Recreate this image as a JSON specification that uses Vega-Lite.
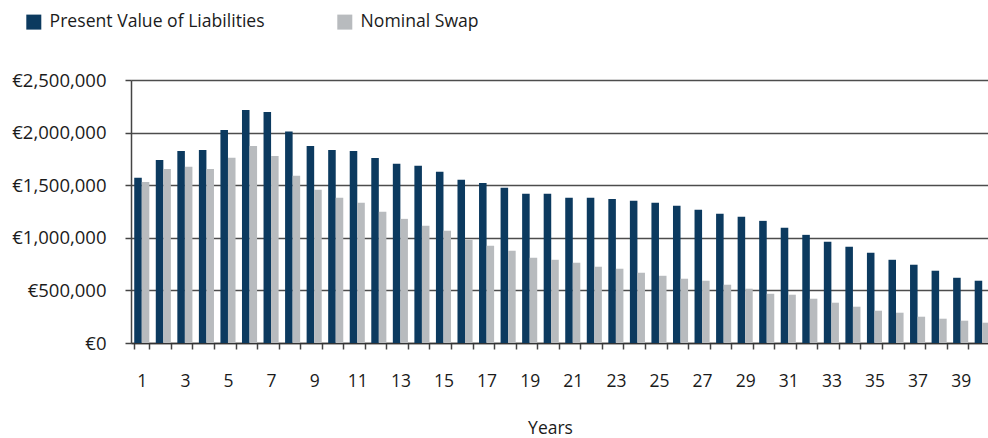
{
  "$schema": "https://vega.github.io/schema/vega-lite/v6.json",
  "autosize": "none",
  "width": 857,
  "height": 263,
  "padding": {"left": 131, "top": 80, "right": 0, "bottom": 95},
  "background": "white",
  "data": {
    "values": [
      {"Year": 1, "Present Value of Liabilities": 1570000, "Nominal Swap": 1530000},
      {"Year": 2, "Present Value of Liabilities": 1740000, "Nominal Swap": 1655000},
      {"Year": 3, "Present Value of Liabilities": 1825000, "Nominal Swap": 1675000},
      {"Year": 4, "Present Value of Liabilities": 1835000, "Nominal Swap": 1655000},
      {"Year": 5, "Present Value of Liabilities": 2025000, "Nominal Swap": 1760000},
      {"Year": 6, "Present Value of Liabilities": 2215000, "Nominal Swap": 1873000},
      {"Year": 7, "Present Value of Liabilities": 2195000, "Nominal Swap": 1778000},
      {"Year": 8, "Present Value of Liabilities": 2010000, "Nominal Swap": 1590000},
      {"Year": 9, "Present Value of Liabilities": 1873000, "Nominal Swap": 1456000},
      {"Year": 10, "Present Value of Liabilities": 1835000, "Nominal Swap": 1380000},
      {"Year": 11, "Present Value of Liabilities": 1826000, "Nominal Swap": 1332000},
      {"Year": 12, "Present Value of Liabilities": 1759000, "Nominal Swap": 1247000},
      {"Year": 13, "Present Value of Liabilities": 1703000, "Nominal Swap": 1180000},
      {"Year": 14, "Present Value of Liabilities": 1684000, "Nominal Swap": 1114000},
      {"Year": 15, "Present Value of Liabilities": 1627000, "Nominal Swap": 1066000},
      {"Year": 16, "Present Value of Liabilities": 1551000, "Nominal Swap": 981000},
      {"Year": 17, "Present Value of Liabilities": 1522000, "Nominal Swap": 924000},
      {"Year": 18, "Present Value of Liabilities": 1475000, "Nominal Swap": 877000},
      {"Year": 19, "Present Value of Liabilities": 1418000, "Nominal Swap": 810000},
      {"Year": 20, "Present Value of Liabilities": 1418000, "Nominal Swap": 791000},
      {"Year": 21, "Present Value of Liabilities": 1380000, "Nominal Swap": 763000},
      {"Year": 22, "Present Value of Liabilities": 1380000, "Nominal Swap": 725000},
      {"Year": 23, "Present Value of Liabilities": 1370000, "Nominal Swap": 706000},
      {"Year": 24, "Present Value of Liabilities": 1351000, "Nominal Swap": 668000},
      {"Year": 25, "Present Value of Liabilities": 1332000, "Nominal Swap": 639000},
      {"Year": 26, "Present Value of Liabilities": 1304000, "Nominal Swap": 611000},
      {"Year": 27, "Present Value of Liabilities": 1266000, "Nominal Swap": 592000},
      {"Year": 28, "Present Value of Liabilities": 1228000, "Nominal Swap": 554000},
      {"Year": 29, "Present Value of Liabilities": 1199000, "Nominal Swap": 516000},
      {"Year": 30, "Present Value of Liabilities": 1161000, "Nominal Swap": 468000},
      {"Year": 31, "Present Value of Liabilities": 1095000, "Nominal Swap": 459000},
      {"Year": 32, "Present Value of Liabilities": 1028000, "Nominal Swap": 421000},
      {"Year": 33, "Present Value of Liabilities": 962000, "Nominal Swap": 383000},
      {"Year": 34, "Present Value of Liabilities": 915000, "Nominal Swap": 345000},
      {"Year": 35, "Present Value of Liabilities": 858000, "Nominal Swap": 307000},
      {"Year": 36, "Present Value of Liabilities": 791000, "Nominal Swap": 288000},
      {"Year": 37, "Present Value of Liabilities": 744000, "Nominal Swap": 250000},
      {"Year": 38, "Present Value of Liabilities": 687000, "Nominal Swap": 231000},
      {"Year": 39, "Present Value of Liabilities": 620000, "Nominal Swap": 212000},
      {"Year": 40, "Present Value of Liabilities": 592000, "Nominal Swap": 193000}
    ]
  },
  "transform": [
    {"fold": ["Present Value of Liabilities", "Nominal Swap"], "as": ["Series", "Value"]}
  ],
  "mark": {"type": "bar"},
  "encoding": {
    "x": {
      "field": "Year",
      "type": "ordinal",
      "scale": {"range": [0, 862], "paddingInner": 0.3, "paddingOuter": 0.15},
      "axis": {
        "title": "Years",
        "titleFont": "Open Sans",
        "titleFontSize": 17.5,
        "titleFontWeight": "normal",
        "titleColor": "#1b1b1b",
        "titleX": 419,
        "titleY": 90,
        "titleBaseline": "alphabetic",
        "titleAnchor": "middle",
        "labelAngle": 0,
        "labelExpr": "datum.value % 2 === 1 ? datum.label : ''",
        "labelFont": "Open Sans",
        "labelFontSize": 17.5,
        "labelColor": "#1b1b1b",
        "labelPadding": 23,
        "tickBand": "extent",
        "tickSize": 6,
        "tickColor": "#444444",
        "tickWidth": 1.5,
        "domainColor": "#333333",
        "domainWidth": 1.5,
        "grid": false
      }
    },
    "xOffset": {"field": "Series", "type": "nominal", "sort": ["Present Value of Liabilities", "Nominal Swap"]},
    "y": {
      "field": "Value",
      "type": "quantitative",
      "scale": {"domain": [0, 2500000], "nice": false},
      "axis": {
        "title": null,
        "values": [0, 500000, 1000000, 1500000, 2000000, 2500000],
        "labelExpr": "'€' + format(datum.value, ',')",
        "labelFont": "Open Sans",
        "labelFontSize": 18.5,
        "labelColor": "#1b1b1b",
        "labelPadding": 19,
        "tickSize": 6,
        "tickColor": "#444444",
        "tickWidth": 1.5,
        "domainColor": "#444444",
        "domainWidth": 1.5,
        "grid": true,
        "gridColor": "#4d4d4d",
        "gridWidth": 1.6
      }
    },
    "color": {
      "field": "Series",
      "type": "nominal",
      "sort": ["Present Value of Liabilities", "Nominal Swap"],
      "scale": {"domain": ["Present Value of Liabilities", "Nominal Swap"], "range": ["#0c3a5f", "#b8bbbe"]},
      "legend": {
        "title": null,
        "orient": "none",
        "direction": "horizontal",
        "legendX": -106,
        "legendY": -67,
        "padding": 0,
        "symbolType": "square",
        "symbolSize": 225,
        "symbolStrokeWidth": 0,
        "symbolOpacity": 1,
        "labelFont": "Open Sans",
        "labelFontSize": 17.6,
        "labelColor": "#1b1b1b",
        "labelOffset": 7,
        "labelLimit": 400,
        "columnPadding": 71
      }
    }
  },
  "config": {
    "view": {"stroke": null}
  }
}
